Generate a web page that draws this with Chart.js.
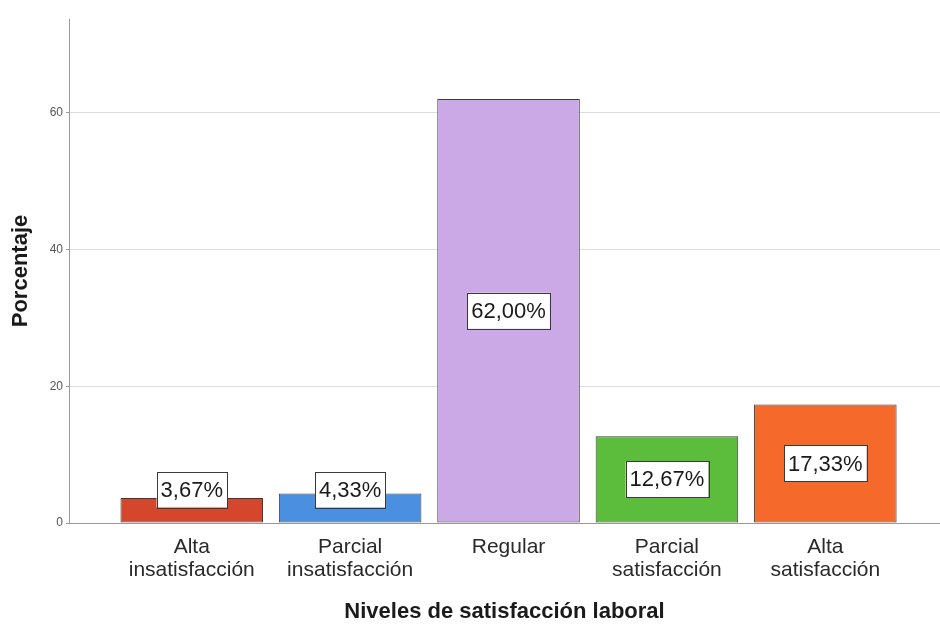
<!DOCTYPE html>
<html>
<head>
<meta charset="utf-8">
<script src="https://cdn.jsdelivr.net/npm/chart.js@4.4.0/dist/chart.umd.min.js"></script>
<style>
  html, body { margin: 0; padding: 0; background: #ffffff; }
  #wrap { width: 940px; height: 625px; }
</style>
</head>
<body>
<div id="wrap"><canvas id="c" width="940" height="625"></canvas></div>
<script>
const categories = [
  ['Alta', 'insatisfacción'],
  ['Parcial', 'insatisfacción'],
  ['Regular'],
  ['Parcial', 'satisfacción'],
  ['Alta', 'satisfacción']
];
const percentages = [3.67, 4.33, 62.00, 12.67, 17.33];
const yTicks = [0, 20, 40, 60];
const barColors = ['#d4472c', '#4a8fe0', '#cba8e6', '#5bbd3b', '#f5692a'];

const FONT = "'Liberation Sans', Arial, sans-serif";

const labelBoxes = {
  id: 'labelBoxes',
  afterDatasetsDraw(chart) {
    const ctx = chart.ctx;
    const meta = chart.getDatasetMeta(0);
    ctx.save();
    ctx.font = '22px ' + FONT;
    ctx.textAlign = 'center';
    ctx.textBaseline = 'middle';
    meta.data.forEach((el, i) => {
      const txt = percentages[i].toFixed(2).replace('.', ',') + '%';
      const mid = (el.y + el.base) / 2;
      const cy = Math.min(mid, el.base - 33);
      const w = ctx.measureText(txt).width + 8;
      const h = 36;
      ctx.fillStyle = '#ffffff';
      ctx.fillRect(el.x - w / 2, cy - h / 2, w, h);
      ctx.strokeStyle = '#3a3a3a';
      ctx.lineWidth = 1;
      ctx.strokeRect(Math.round(el.x - w / 2) + 0.5, Math.round(cy - h / 2) + 0.5, Math.round(w), h);
      ctx.fillStyle = '#1a1a1a';
      ctx.fillText(txt, el.x, cy + 1);
    });
    ctx.restore();
  }
};

new Chart(document.getElementById('c'), {
  type: 'bar',
  data: {
    datasets: [{
      data: percentages.map((v, i) => ({ x: i, y: v })),
      backgroundColor: barColors,
      borderColor: '#3d3d3d',
      borderWidth: 1,
      borderSkipped: false,
      categoryPercentage: 1.0,
      barPercentage: 0.9
    }]
  },
  options: {
    responsive: false,
    animation: false,
    devicePixelRatio: 1,
    layout: { padding: { top: 19, right: 0, bottom: 0, left: 0 } },
    plugins: { legend: { display: false }, tooltip: { enabled: false } },
    scales: {
      x: {
        type: 'linear',
        offset: false,
        min: -0.775,
        max: 4.724,
        grid: { display: false, drawTicks: false, offset: false },
        border: { display: true, color: '#999999', width: 1 },
        afterBuildTicks: (scale) => { scale.ticks = categories.map((c, i) => ({ value: i })); },
        afterFit: (scale) => { scale.height = 102; },
        ticks: {
          autoSkip: false,
          maxRotation: 0,
          minRotation: 0,
          padding: 12,
          color: '#2a2a2a',
          font: { family: FONT, size: 21, lineHeight: 1.12 },
          callback: (value, index) => categories[index]
        },
        title: {
          display: true,
          text: 'Niveles de satisfacción laboral',
          color: '#1a1a1a',
          font: { family: FONT, size: 22, weight: 'bold' },
          padding: { top: 0, bottom: 0 }
        }
      },
      y: {
        min: 0,
        max: 73.7,
        afterBuildTicks: (scale) => { scale.ticks = yTicks.map(v => ({ value: v })); },
        afterFit: (scale) => { scale.width = 69; },
        grid: { color: '#dddddd', lineWidth: 1, drawTicks: true, tickLength: 3, tickColor: '#999999' },
        border: { display: true, color: '#999999', width: 1 },
        ticks: {
          padding: 3,
          color: '#555555',
          font: { family: FONT, size: 12 }
        },
        title: {
          display: true,
          text: 'Porcentaje',
          color: '#1a1a1a',
          font: { family: FONT, size: 22, weight: 'bold' },
          padding: { top: 8, bottom: 0 }
        }
      }
    }
  },
  plugins: [labelBoxes]
});
</script>
</body>
</html>
